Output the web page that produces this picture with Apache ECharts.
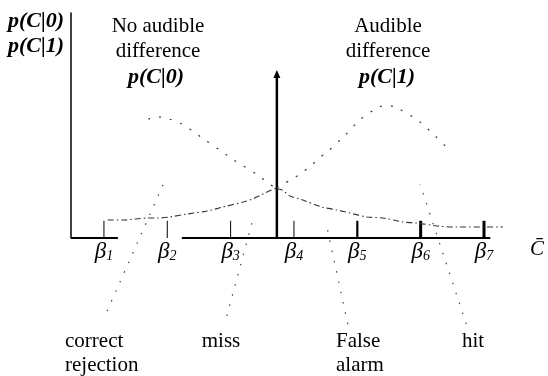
<!DOCTYPE html>
<html>
<head>
<meta charset="utf-8">
<script src="https://cdn.jsdelivr.net/npm/echarts@6/dist/echarts.min.js"></script>
<style>html,body{margin:0;padding:0;background:#fff;}#c{width:548px;height:376px;}</style>
</head>
<body>
<div id="c"></div>
<script>
// ---- data (x: criterion scale, beta_i at i; y: density) ----
const betaPos = [1, 2, 3, 4, 5, 6, 7];
const betaSubs = ['1', '2', '3', '4', '5', '6', '7'];
const criterion = [3.73];
const criterionTop = [1.27];
// p(C|0): visible upper part and right tail
const p0Body = [[1.70,0.899],[1.87,0.914],[2.03,0.899],[2.23,0.861],[2.42,0.801],[2.53,0.763],[2.94,0.627],[3.05,0.589],[3.43,0.476],[3.59,0.416],[3.73,0.370]];
const p0Tail = [[3.73,0.370],[3.81,0.363],[3.94,0.317],[4.14,0.287],[4.44,0.234],[4.68,0.212],[4.88,0.189],[5.15,0.159],[5.41,0.151],[5.72,0.121],[5.94,0.113],[6.26,0.091],[6.57,0.083],[6.98,0.083],[7.30,0.083]];
// p(C|1): left tail and visible upper part
const p1Tail = [[1.06,0.136],[1.33,0.136],[1.49,0.144],[1.70,0.151],[1.84,0.151],[2.04,0.159],[2.31,0.181],[2.63,0.204],[2.88,0.234],[3.20,0.272],[3.35,0.295],[3.51,0.332],[3.65,0.363],[3.73,0.378]];
const p1Body = [[3.73,0.378],[3.81,0.400],[3.94,0.438],[4.10,0.484],[4.28,0.552],[4.40,0.604],[4.54,0.657],[4.81,0.778],[5.04,0.892],[5.31,0.982],[5.39,0.997],[5.56,0.997],[5.64,0.982],[5.99,0.876],[6.42,0.680]];
// baseline pieces (the scan shows a gap)
const axisSegA = [[0.48,0],[1.22,0]];
const axisSegB = [[2.23,0],[7.10,0]];
// leader lines from the outcome labels
const leaderCR = [[1.05,-0.552],[1.98,0.453]];
const leaderMiss = [[2.94,-0.589],[3.37,0.174]];
const leaderFA = [[4.85,-0.650],[4.51,0.106]];
const leaderHit = [[6.72,-0.650],[5.99,0.408]];

const serif = '"Liberation Serif", "Times New Roman", serif';
const chart = echarts.init(document.getElementById('c'), null, {renderer: 'canvas'});

function lineSeries(data, dash, width, color, smooth) {
  return {
    type: 'line', data: data, showSymbol: false, symbol: 'none', smooth: smooth || false,
    clip: false, silent: true, animation: false,
    lineStyle: {color: color, width: width, type: dash}
  };
}

const txt = (text, x, y, align, font) => ({
  type: 'text', x: x, y: y,
  style: {text: text, font: font, fill: '#000', textAlign: align, textVerticalAlign: 'middle'}
});
const fReg = '21px ' + serif;
const fBI = 'italic bold 22px ' + serif;

chart.setOption({
  animation: false,
  backgroundColor: '#fff',
  grid: {left: 71, right: 26, top: 13, bottom: 138, containLabel: false},
  xAxis: {
    type: 'value', min: 0.48, max: 7.6,
    axisLine: {show: false}, axisTick: {show: false}, splitLine: {show: false},
    axisLabel: {
      show: true, margin: 2, customValues: betaPos,
      formatter: function (v) {
        const i = betaPos.indexOf(Math.round(v));
        return '{b|β}{s|' + betaSubs[i] + '}';
      },
      rich: {
        b: {fontFamily: serif, fontStyle: 'italic', fontSize: 23, color: '#000', lineHeight: 23},
        s: {fontFamily: serif, fontStyle: 'italic', fontSize: 14, color: '#000', lineHeight: 14, verticalAlign: 'bottom', padding: [5, 0, 0, 0]}
      }
    }
  },
  yAxis: {
    type: 'value', min: 0, max: 1.7,
    axisLine: {show: true, onZero: false, lineStyle: {color: '#000', width: 1.5}},
    axisTick: {show: false}, axisLabel: {show: false}, splitLine: {show: false}
  },
  series: [
    lineSeries(axisSegA, 'solid', 2, '#000'),
    lineSeries(axisSegB, 'solid', 2, '#000'),
    lineSeries(p0Body, [2, 9], 1.2, '#333', 0.3),
    lineSeries(p0Tail, [6, 3, 1.5, 3], 1.1, '#333', 0.3),
    lineSeries(p1Tail, [6, 3, 1.5, 3], 1.1, '#333', 0.3),
    lineSeries(p1Body, [2, 9], 1.2, '#333', 0.3),
    lineSeries(leaderCR, [1.5, 9], 1.2, '#444'),
    lineSeries(leaderMiss, [1.5, 9], 1.2, '#444'),
    lineSeries(leaderFA, [1.5, 9], 1.2, '#444'),
    lineSeries(leaderHit, [1.5, 9], 1.2, '#444'),
    {
      type: 'custom', clip: false, silent: true, animation: false,
      data: betaPos.map(v => [v]),
      encode: {x: 0},
      renderItem: function (params, api) {
        const x = api.value(0);
        const a = api.coord([x, 0]);
        const b = api.coord([x, 0.13]);
        const w = params.dataIndex >= 5 ? 3 : (params.dataIndex === 4 ? 2.2 : 1);
        return {type: 'line', shape: {x1: a[0], y1: a[1], x2: b[0], y2: b[1]}, style: {stroke: '#000', lineWidth: w}};
      }
    },
    {
      type: 'custom', clip: false, silent: true, animation: false,
      data: criterion.map((v, i) => [v, criterionTop[i]]),
      encode: {x: 0, y: 1},
      renderItem: function (params, api) {
        const a = api.coord([api.value(0), 0]);
        const b = api.coord([api.value(0), api.value(1)]);
        return {type: 'group', children: [
          {type: 'line', shape: {x1: a[0], y1: a[1], x2: b[0], y2: b[1] + 6}, style: {stroke: '#000', lineWidth: 2.5}},
          {type: 'polygon', shape: {points: [[b[0], b[1]], [b[0] - 3.5, b[1] + 8], [b[0] + 3.5, b[1] + 8]]}, style: {fill: '#000'}}
        ]};
      }
    }
  ],
  graphic: [
    txt('p(C|0)', 8, 21, 'left', fBI),
    txt('p(C|1)', 8, 46, 'left', fBI),
    txt('No audible', 158, 26, 'center', fReg),
    txt('difference', 158, 51, 'center', fReg),
    txt('p(C|0)', 156, 77, 'center', fBI),
    txt('Audible', 388, 26, 'center', fReg),
    txt('difference', 388, 51, 'center', fReg),
    txt('p(C|1)', 387, 77, 'center', fBI),
    txt('correct', 65, 341, 'left', fReg),
    txt('rejection', 65, 365, 'left', fReg),
    txt('miss', 221, 341, 'center', fReg),
    txt('False', 336, 341, 'left', fReg),
    txt('alarm', 336, 365, 'left', fReg),
    txt('hit', 462, 341, 'left', fReg),
    txt('C\u0304', 530, 249, 'left', 'italic 21px ' + serif)
  ]
});
</script>
</body>
</html>
